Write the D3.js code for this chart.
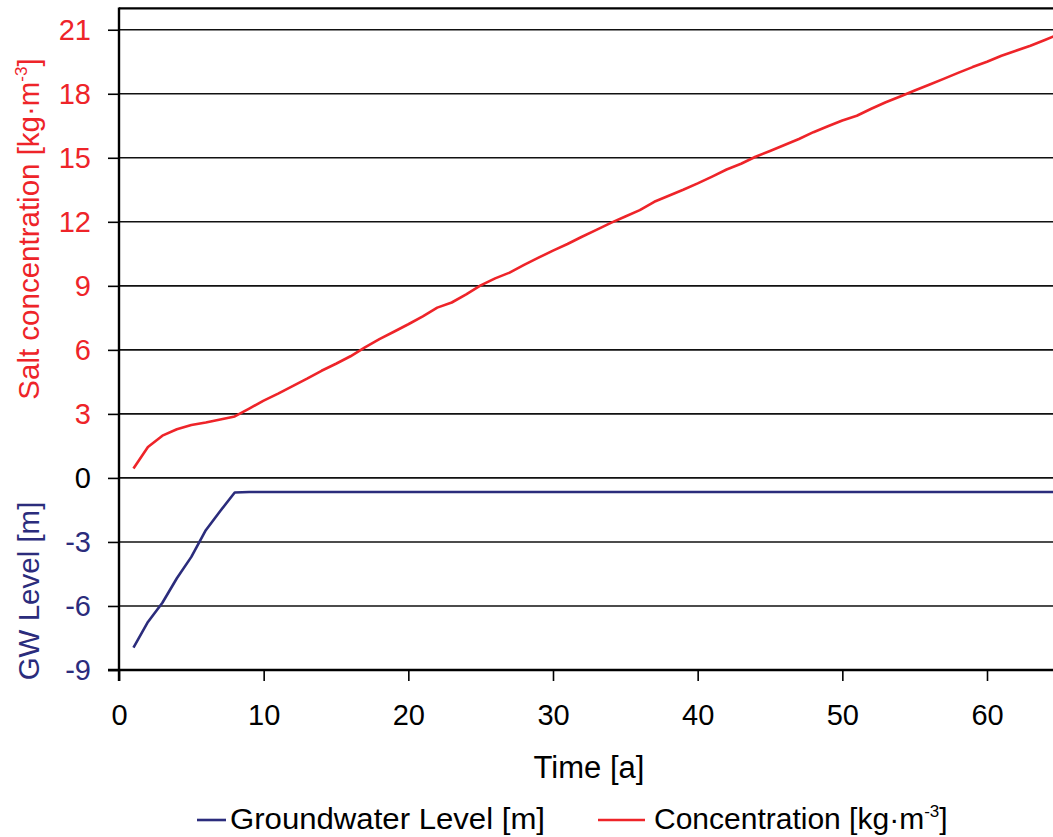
<!DOCTYPE html>
<html><head><meta charset="utf-8">
<script src="https://cdn.jsdelivr.net/npm/d3@7"></script>
<style>body{margin:0;background:#fff;}svg{display:block;font-family:"Liberation Sans",Arial,sans-serif;}</style>
</head><body>
<script>
const years = [1,2,3,4,5,6,7,8,9,10,11,12,13,14,15,16,17,18,19,20,21,22,23,24,25,26,27,28,29,30,31,32,33,34,35,36,37,38,39,40,41,42,43,44,45,46,47,48,49,50,51,52,53,54,55,56,57,58,59,60,61,62,63,64,65];
const concentration = [0.44,1.45,1.98,2.28,2.48,2.6,2.74,2.88,3.25,3.62,3.95,4.3,4.65,5.02,5.35,5.7,6.12,6.5,6.85,7.2,7.57,7.98,8.22,8.6,9.02,9.35,9.62,9.98,10.32,10.65,10.96,11.3,11.62,11.95,12.25,12.55,12.94,13.22,13.5,13.8,14.12,14.45,14.72,15.05,15.32,15.6,15.88,16.2,16.48,16.75,16.97,17.3,17.6,17.87,18.15,18.42,18.7,18.98,19.25,19.5,19.78,20.02,20.25,20.52,20.8];
const gwLevel = [-7.95,-6.75,-5.85,-4.7,-3.7,-2.45,-1.55,-0.68,-0.66,-0.66,-0.66,-0.66,-0.66,-0.66,-0.66,-0.66,-0.66,-0.66,-0.66,-0.66,-0.66,-0.66,-0.66,-0.66,-0.66,-0.66,-0.66,-0.66,-0.66,-0.66,-0.66,-0.66,-0.66,-0.66,-0.66,-0.66,-0.66,-0.66,-0.66,-0.66,-0.66,-0.66,-0.66,-0.66,-0.66,-0.66,-0.66,-0.66,-0.66,-0.66,-0.66,-0.66,-0.66,-0.66,-0.66,-0.66,-0.66,-0.66,-0.66,-0.66,-0.66,-0.66,-0.66,-0.66,-0.66];
const xTicks = [0,10,20,30,40,50,60];
const yTicks = [-9,-6,-3,0,3,6,9,12,15,18,21];

const W = 1053, H = 837;
const RED = "#ee2429", NAVY = "#2b2c7c";
const svg = d3.select("body").append("svg").attr("width", W).attr("height", H);
const x = d3.scaleLinear().domain([0, 60]).range([119, 987]);
const y = d3.scaleLinear().domain([-9, 22]).range([670, 8.4]);

// gridlines
svg.append("g").selectAll("line").data(yTicks.filter(d => d > -9)).join("line")
  .attr("x1", x(0)).attr("x2", W + 5).attr("y1", d => y(d)).attr("y2", d => y(d))
  .attr("stroke", "#111").attr("stroke-width", 1.6);
// top border
svg.append("line").attr("x1", x(0)).attr("x2", W + 5).attr("y1", y(22)).attr("y2", y(22))
  .attr("stroke", "#000").attr("stroke-width", 2.4);

// y axis
const yAxis = svg.append("g").attr("transform", `translate(${x(0)},0)`)
  .call(d3.axisLeft(y).tickValues(yTicks).tickSize(11).tickPadding(17).tickFormat(d => String(d)));
yAxis.select(".domain").remove();
yAxis.append("line").attr("x1", 0).attr("x2", 0).attr("y1", y(22) - 1).attr("y2", 681).attr("stroke", "#000").attr("stroke-width", 2.4);
yAxis.selectAll(".tick line").attr("stroke", "#000").attr("stroke-width", 1.6);
yAxis.selectAll(".tick text").attr("font-size", 29).attr("font-family", "Liberation Sans, Arial, sans-serif")
  .attr("fill", d => d > 0 ? RED : (d < 0 ? NAVY : "#000"));

// x axis
const xAxis = svg.append("g").attr("transform", `translate(0,${y(-9)})`)
  .call(d3.axisBottom(x).tickValues(xTicks).tickSize(11).tickPadding(23).tickFormat(d => String(d)));
xAxis.select(".domain").remove();
xAxis.append("line").attr("x1", 108).attr("x2", W + 5).attr("y1", 0).attr("y2", 0).attr("stroke", "#000").attr("stroke-width", 2.4);
xAxis.selectAll(".tick line").attr("stroke", "#000").attr("stroke-width", 1.6);
xAxis.selectAll(".tick text").attr("font-size", 29).attr("font-family", "Liberation Sans, Arial, sans-serif").attr("fill", "#000");

// lines
const line = vals => d3.line().x((d, i) => x(years[i])).y(d => y(d))(vals);
svg.append("path").attr("d", line(gwLevel)).attr("fill", "none").attr("stroke", NAVY).attr("stroke-width", 2.6).attr("stroke-linejoin", "round");
svg.append("path").attr("d", line(concentration)).attr("fill", "none").attr("stroke", RED).attr("stroke-width", 2.6).attr("stroke-linejoin", "round");

// axis titles
const t1 = svg.append("text").attr("transform", "translate(39,229) rotate(-90)").attr("text-anchor", "middle")
  .attr("font-size", 29.5).attr("fill", RED);
t1.append("tspan").text("Salt concentration [kg·m");
t1.append("tspan").attr("font-size", 17).attr("dy", -12).text("-3");
t1.append("tspan").attr("dy", 12).text("]");

svg.append("text").attr("transform", "translate(39,591) rotate(-90)").attr("text-anchor", "middle")
  .attr("font-size", 29.5).attr("fill", NAVY).text("GW Level [m]");

svg.append("text").attr("x", 589).attr("y", 778).attr("text-anchor", "middle")
  .attr("font-size", 31).attr("fill", "#000").text("Time [a]");

// legend
const leg = svg.append("g");
leg.append("line").attr("x1", 197).attr("x2", 226).attr("y1", 820).attr("y2", 820).attr("stroke", NAVY).attr("stroke-width", 2.6);
leg.append("text").attr("x", 230).attr("y", 829).attr("font-size", 30).attr("textLength", 315).attr("lengthAdjust", "spacingAndGlyphs").attr("fill", "#000").text("Groundwater Level [m]");
leg.append("line").attr("x1", 598).attr("x2", 645).attr("y1", 820).attr("y2", 820).attr("stroke", RED).attr("stroke-width", 2.6);
const lt = leg.append("text").attr("x", 654).attr("y", 829).attr("font-size", 30).attr("fill", "#000");
lt.append("tspan").text("Concentration [kg·m");
lt.append("tspan").attr("font-size", 17).attr("dy", -12).text("-3");
lt.append("tspan").attr("dy", 12).text("]");
</script>
</body></html>
